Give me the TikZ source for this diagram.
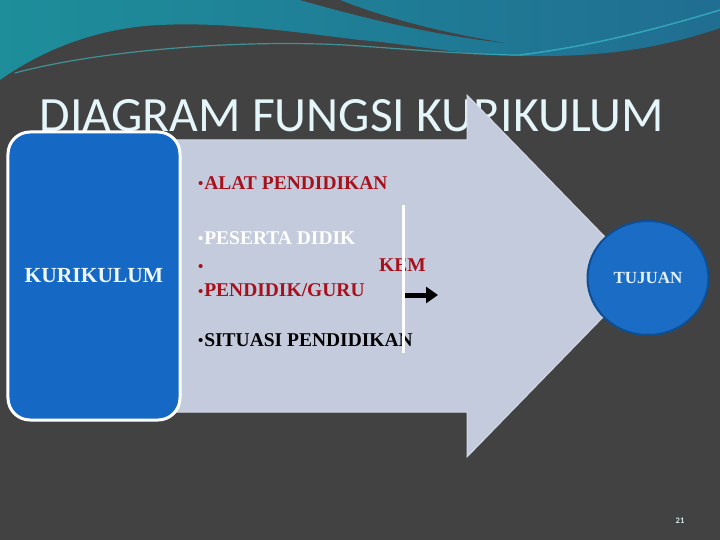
\documentclass[tikz,border=0pt]{standalone}
\usepackage{fontspec}
\setmainfont{Liberation Serif}
\newfontfamily\titlefont{Carlito}
\usetikzlibrary{arrows.meta,shapes.geometric}
\definecolor{bggray}{HTML}{424242}
\definecolor{tealA}{HTML}{1E8E9A}
\definecolor{tealB}{HTML}{206E92}
\definecolor{titlecol}{HTML}{E4F6FA}
\definecolor{arrowfill}{HTML}{C4CBDC}
\definecolor{arrowedge}{HTML}{D2D8E6}
\definecolor{boxblue}{HTML}{1569C4}
\definecolor{circblue}{HTML}{1A6CC5}
\definecolor{circedge}{HTML}{0F4E92}
\definecolor{kurtext}{HTML}{EEF8FA}
\definecolor{itemred}{HTML}{A8101B}
\definecolor{tujtext}{HTML}{E2F2FF}
\definecolor{pagecol}{HTML}{D8E6E6}
\definecolor{glow}{HTML}{3FC8D0}
\newcommand\mybul{\raisebox{0.5bp}{\fontsize{15bp}{15bp}\selectfont •}\kern0.8bp}
\tikzset{
  item/.style={anchor=base west, inner sep=0pt, font=\bfseries\fontsize{19.5bp}{22bp}\selectfont},
}
\begin{document}
\begin{tikzpicture}[x=1bp,y=-1bp]
\useasboundingbox (0,0) rectangle (720,540);
\fill[bggray] (0,0) rectangle (720,540);
% top banner
\shade[left color=tealA,right color=tealB] (0,0) -- (720,0) -- (720,28)
  .. controls (650,52) and (590,57) .. (520,56)
  .. controls (450,54) and (410,44) .. (360,40)
  .. controls (280,30) and (220,22) .. (160,25)
  .. controls (90,28) and (35,55) .. (0,80) -- cycle;
\fill[bggray] (300,0) .. controls (370,20) and (440,36) .. (505,43)
  .. controls (450,34) and (390,20) .. (340,0) -- cycle;
\draw[glow, opacity=0.6, line width=1.2bp] (15,73) .. controls (100,50) and (250,38) .. (360,46)
  .. controls (430,51) and (480,55) .. (520,55);
\draw[glow, opacity=0.6, line width=1.5bp] (520,55) .. controls (600,45) and (670,25) .. (720,10);
% title
\node[anchor=base, text=titlecol, inner sep=0pt] (title) at (352,132)
  {\resizebox{624bp}{32bp}{\titlefont DIAGRAM FUNGSI KURIKULUM}};
% big arrow
\filldraw[fill=arrowfill, draw=arrowedge, line width=1bp]
  (170,140) -- (467,140) -- (467,95) -- (643,276) -- (467,457) -- (467,412) -- (170,412) -- cycle;
% left box
\node[draw=white, line width=3bp, fill=boxblue, rounded corners=22bp,
  minimum width=172bp, minimum height=288bp, inner sep=0pt, text=kurtext,
  font=\bfseries\fontsize{21.5bp}{24bp}\selectfont] (kur) at (94,276) {KURIKULUM};
% circle
\node[ellipse, draw=circedge, line width=2bp, fill=circblue, minimum width=121bp,
  minimum height=114bp, inner sep=0pt, text=tujtext,
  font=\bfseries\fontsize{17bp}{19bp}\selectfont] (tujuan) at (648,278) {TUJUAN};
% items
\node[item, text=itemred] (alat) at (198,189.5) {\mybul ALAT PENDIDIKAN};
\node[item, text=white] (peserta) at (198,244.5) {\mybul PESERTA DIDIK};
\node[item, text=itemred] (bullone) at (198,272) {\mybul};
\node[item, text=itemred] (kem) at (379,272) {KEM};
\node[item, text=itemred] (guru) at (198,296.5) {\mybul PENDIDIK/GURU};
\node[item, text=black] (situasi) at (198,346) {\mybul SITUASI PENDIDIKAN};
% white line and black arrow
\coordinate (vtop) at (403,205);
\coordinate (vbot) at (403,353);
\draw[white, line width=3bp] (vtop) -- (vbot);
\coordinate (as) at (405,295);
\coordinate (ae) at (438,295);
\draw[black, line width=5bp, -{Triangle[length=12bp,width=16bp]}] (as) -- (ae);
% page number
\node[text=pagecol, inner sep=0pt, font=\titlefont\bfseries\fontsize{8.5bp}{9bp}\selectfont] (pg) at (680,521) {21};
\end{tikzpicture}
\end{document}
